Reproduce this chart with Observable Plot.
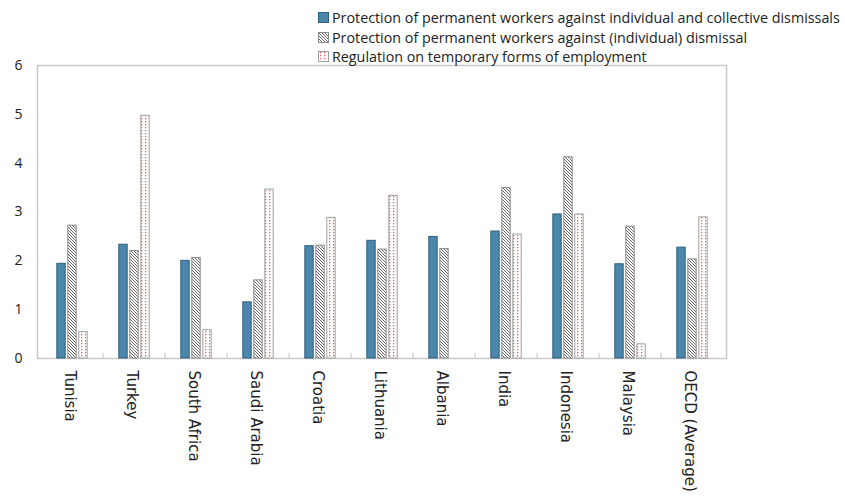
<!DOCTYPE html>
<html>
<head>
<meta charset="utf-8">
<script src="https://cdn.jsdelivr.net/npm/d3@7"></script>
<script src="https://cdn.jsdelivr.net/npm/@observablehq/plot@0.6"></script>
<style>
  html, body { margin: 0; padding: 0; background: #fff; }
  #wrap { position: relative; width: 845px; height: 500px; font-family: "Open Sans", sans-serif; }
  #legend { position: absolute; left: 318px; top: 8px; font-size: 14.3px; color: #222; line-height: 19.5px; }
  #legend div { display: flex; align-items: center; white-space: nowrap; }
  #legend svg { margin-right: 3px; }
</style>
</head>
<body>
<svg width="0" height="0" style="position:absolute">
  <defs>
    <pattern id="hatch" patternUnits="userSpaceOnUse" width="3" height="3">
      <rect width="3" height="3" fill="#fff"/>
      <path d="M-1,-1 L4,4 M-1,2 L1,4 M2,-1 L4,1" stroke="#555" stroke-width="0.9"/>
    </pattern>
    <pattern id="dots" patternUnits="userSpaceOnUse" width="4" height="3">
      <rect width="4" height="3" fill="#fff"/>
      <rect x="2" y="1" width="1.3" height="1.3" fill="#e03a3a" fill-opacity="0.8"/>
    </pattern>
  </defs>
</svg>
<div id="wrap">
  <div id="legend"></div>
</div>
<script>
const countries = ["Tunisia", "Turkey", "South Africa", "Saudi Arabia", "Croatia", "Lithuania", "Albania", "India", "Indonesia", "Malaysia", "OECD (Average)"];
const seriesNames = [
  "Protection of permanent workers against individual and collective dismissals",
  "Protection of permanent workers against (individual) dismissal",
  "Regulation on temporary forms of employment"
];
const collective = [1.94, 2.33, 2.00, 1.15, 2.30, 2.41, 2.49, 2.60, 2.95, 1.93, 2.27];
const individual = [2.72, 2.20, 2.06, 1.60, 2.31, 2.23, 2.24, 3.49, 4.12, 2.70, 2.03];
const temporary  = [0.54, 4.97, 0.58, 3.46, 2.88, 3.33, null, 2.54, 2.95, 0.29, 2.89];
const yTicks = [0, 1, 2, 3, 4, 5, 6];

const W = 845, H = 500, mL = 37, mR = 119, mT = 65, mB = 142;
const step = (W - mL - mR) / countries.length;
const barW = 9, gap = 11;
const inset = (step - barW) / 2;

const mk = (vals) => countries.map((c, i) => ({country: c, value: vals[i]})).filter(d => d.value != null);

const styles = [
  {fill: "#4a87aa", stroke: "#2e5f7e"},
  {fill: "url(#hatch)", stroke: "#8a8a8a"},
  {fill: "url(#dots)", stroke: "#a0a0a0"}
];
const seriesData = [mk(collective), mk(individual), mk(temporary)];

const marks = [
  Plot.frame({stroke: "#c9c9c9", strokeWidth: 1.5}),
  ...seriesData.map((data, k) => Plot.barY(data, {
    x: "country", y: "value",
    fill: styles[k].fill, stroke: styles[k].stroke, strokeWidth: 1,
    insetLeft: inset, insetRight: inset, dx: (k - 1) * gap
  })),
  Plot.ruleX(countries.slice(1), {x: d => d, y1: 0, y2: 0.1, dx: -step / 2, stroke: "#c9c9c9", strokeWidth: 1.2}),
  Plot.tickY(yTicks.slice(1, -1), {y: d => d, x: countries[0], insetLeft: 0, insetRight: step - 5, stroke: "#c9c9c9", strokeWidth: 1.2}),
  Plot.axisY({ticks: yTicks, tickSize: 0, tickPadding: 15, tickFormat: d => String(d), fontSize: 14, fill: "#222"}),
  Plot.axisX({tickSize: 0, tickRotate: 90, tickPadding: 12, fontSize: 15, fill: "#222", fontFamily: "'DejaVu Sans', sans-serif", dx: -3})
];

const chart = Plot.plot({
  width: W, height: H,
  marginLeft: mL, marginRight: mR, marginTop: mT, marginBottom: mB,
  style: {fontFamily: "'Open Sans', sans-serif", background: "#fff"},
  x: {type: "band", domain: countries, padding: 0, label: null},
  y: {domain: [0, 6], label: null},
  marks
});
chart.style.position = "absolute";
chart.style.left = "0";
chart.style.top = "0";
const wrap = document.getElementById("wrap");
wrap.insertBefore(chart, wrap.firstChild);

const legend = document.getElementById("legend");
seriesNames.forEach((name, k) => {
  const row = document.createElement("div");
  row.innerHTML = `<svg width="11" height="11"><rect x="0.5" y="0.5" width="10" height="10" fill="${styles[k].fill}" stroke="${styles[k].stroke}"/></svg><span>${name}</span>`;
  legend.appendChild(row);
});
</script>
</body>
</html>
